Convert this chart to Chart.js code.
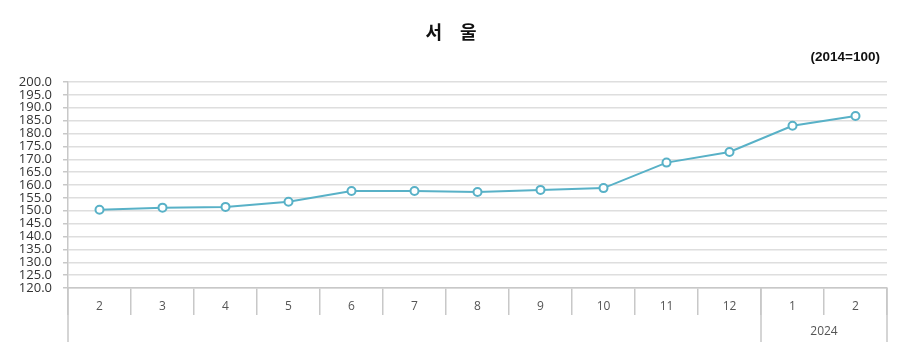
<!DOCTYPE html>
<html lang="ko">
<head>
    <meta charset="UTF-8">
    <title>서울</title>
    <script src="https://cdn.jsdelivr.net/npm/chart.js@4"></script>
    <style>
        body { margin: 0; background: #fff; }
        .chart-container { width: 900px; height: 351px; position: relative; }
    </style>
</head>
<body>
    <div class="chart-container">
        <canvas id="myChart"></canvas>
    </div>

    <script>
        // data
        const months = ['2', '3', '4', '5', '6', '7', '8', '9', '10', '11', '12', '1', '2'];
        const years = ['', '', '', '', '', '', '', '', '', '', '', '2024', '2024'];
        const seoul = [150.4, 151.2, 151.5, 153.5, 157.7, 157.7, 157.3, 158.1, 158.8, 168.7, 172.8, 183.0, 186.8];
        const titleText = '서　울';
        const unitText = '(2014=100)';

        const lineColor = '#58b1c7';
        const axisColor = '#c8c8c8';
        const tableBottom = 342;

        // draws title, unit note and the year row under the month labels
        const extras = {
            id: 'extras',
            afterDraw(chart) {
                const ctx = chart.ctx;
                const x = chart.scales.x;
                const area = chart.chartArea;
                const half = (x.getPixelForValue(1) - x.getPixelForValue(0)) / 2;

                ctx.save();
                ctx.fillStyle = '#111';
                ctx.textAlign = 'center';
                ctx.textBaseline = 'middle';
                ctx.font = 'bold 18px "Noto Sans CJK KR"';
                ctx.fillText(titleText, 451, 32);
                ctx.textAlign = 'right';
                ctx.font = 'bold 13.5px "Liberation Sans"';
                ctx.fillText(unitText, 880, 57);

                ctx.strokeStyle = axisColor;
                ctx.lineWidth = 1.5;
                ctx.beginPath();
                ctx.moveTo(area.left, area.bottom);
                ctx.lineTo(area.left, tableBottom);

                // year groups
                let i = 0;
                ctx.fillStyle = '#555';
                ctx.textAlign = 'center';
                ctx.font = '12px "Open Sans"';
                while (i < years.length) {
                    let j = i;
                    while (j + 1 < years.length && years[j + 1] === years[i]) j++;
                    if (years[i] !== '') {
                        const x0 = x.getPixelForValue(i) - half;
                        const x1 = x.getPixelForValue(j) + half;
                        ctx.moveTo(x0, area.bottom);
                        ctx.lineTo(x0, tableBottom);
                        ctx.moveTo(x1, area.bottom);
                        ctx.lineTo(x1, tableBottom);
                        ctx.fillText(years[i], (x0 + x1) / 2, 332);
                    }
                    i = j + 1;
                }
                ctx.stroke();
                ctx.restore();
            }
        };

        new Chart(document.getElementById('myChart'), {
            type: 'line',
            data: {
                labels: months,
                datasets: [{
                    label: '서울',
                    data: seoul,
                    borderColor: lineColor,
                    borderWidth: 2,
                    pointRadius: 4,
                    pointBorderWidth: 2,
                    pointBackgroundColor: '#fff',
                    pointBorderColor: lineColor,
                    tension: 0
                }]
            },
            options: {
                responsive: true,
                maintainAspectRatio: false,
                animation: false,
                layout: { padding: { top: 82, right: 13, bottom: 0, left: 0 } },
                plugins: {
                    legend: { display: false },
                    tooltip: { enabled: false }
                },
                scales: {
                    x: {
                        offset: true,
                        afterFit: s => { s.height = 63; },
                        grid: {
                            offset: true,
                            drawOnChartArea: false,
                            tickLength: 27,
                            color: axisColor,
                            lineWidth: 1.5
                        },
                        border: { color: axisColor, width: 1.5 },
                        ticks: {
                            color: '#555',
                            padding: -16,
                            maxRotation: 0,
                            autoSkip: false,
                            font: { family: 'Open Sans', size: 12 }
                        }
                    },
                    y: {
                        min: 120,
                        max: 200,
                        afterFit: s => { s.width = 68; },
                        grid: {
                            color: '#dedede',
                            lineWidth: 1.5,
                            tickLength: 5,
                            tickColor: axisColor
                        },
                        border: { color: axisColor, width: 1.5 },
                        ticks: {
                            stepSize: 5,
                            autoSkip: false,
                            padding: 11,
                            color: '#333',
                            font: { family: 'Open Sans', size: 13 },
                            callback: v => v.toFixed(1)
                        }
                    }
                }
            },
            plugins: [extras]
        });
    </script>
</body>
</html>
